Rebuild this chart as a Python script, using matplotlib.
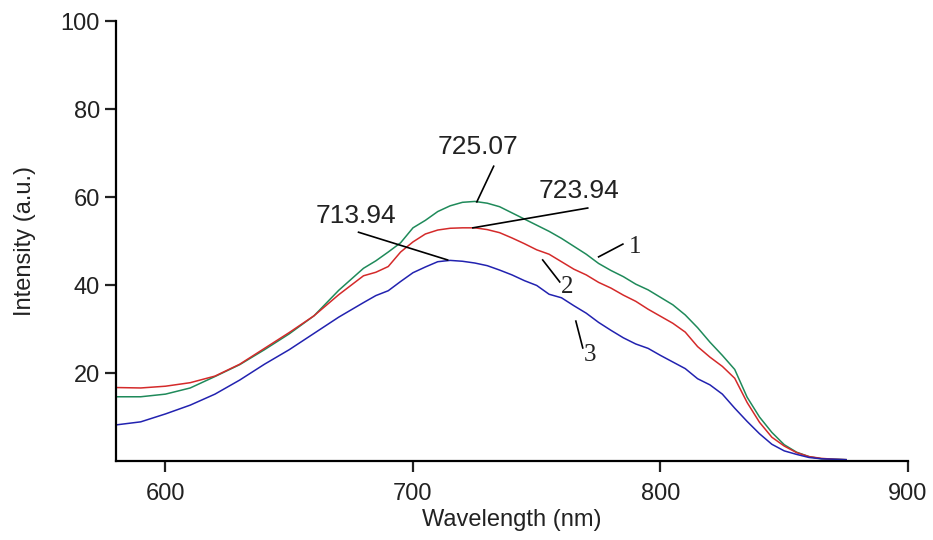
import numpy as np
import matplotlib
matplotlib.use("Agg")
import matplotlib.pyplot as plt

# wavelength grid (nm) and intensities
wl = [580, 590, 600, 610, 620, 630, 640, 650, 660, 670, 680, 685, 690, 695, 700,
      705, 710, 715, 720, 725, 730, 735, 740, 745, 750, 755, 760, 765, 770, 775,
      780, 785, 790, 795, 800, 805, 810, 815, 820, 825, 830, 835, 840, 845, 850,
      855, 860, 865, 870, 875]

# curve 1 (green)
y1 = [14.6, 14.6, 15.2, 16.6, 19.2, 21.9, 25.3, 28.9, 33.0, 38.8, 43.8, 45.5, 47.5, 49.6, 53.0,
      54.7, 56.7, 58.0, 58.8, 59.0, 58.6, 57.8, 56.4, 55.0, 53.6, 52.2, 50.6, 48.8, 47.0, 44.9,
      43.3, 41.9, 40.2, 38.9, 37.2, 35.5, 33.2, 30.3, 27.0, 24.0, 20.8, 14.5, 10.0, 6.5, 3.7,
      2.0, 1.0, 0.5, 0.4, 0.3]
# curve 2 (red)
y2 = [16.7, 16.6, 17.0, 17.8, 19.3, 22.0, 25.6, 29.2, 33.0, 37.8, 42.1, 42.9, 44.2, 47.5, 49.8,
      51.6, 52.5, 52.9, 53.0, 53.0, 52.6, 51.9, 50.7, 49.4, 48.0, 47.0, 45.3, 43.6, 42.3, 40.6,
      39.3, 37.7, 36.3, 34.5, 32.9, 31.3, 29.3, 26.0, 23.6, 21.5, 18.8, 13.3, 8.8, 5.4, 3.4,
      1.9, 1.0, 0.6, 0.4, 0.3]
# curve 3 (blue)
y3 = [8.2, 8.9, 10.7, 12.7, 15.2, 18.4, 22.0, 25.3, 29.0, 32.7, 36.0, 37.6, 38.7, 40.8, 42.8,
      44.1, 45.3, 45.6, 45.4, 45.0, 44.4, 43.4, 42.3, 41.0, 39.9, 37.9, 37.1, 35.3, 33.6, 31.5,
      29.7, 28.0, 26.6, 25.6, 24.0, 22.5, 21.0, 18.7, 17.3, 15.2, 12.0, 9.0, 6.2, 3.8, 2.3,
      1.5, 0.8, 0.5, 0.4, 0.3]

# peak labels: text, text pos, leader line (start, end)
peak_text = ["725.07", "723.94", "713.94"]
peak_text_xy = [(726.2, 71.4), (767.0, 61.4), (676.8, 55.7)]
peak_line = [((732.6, 67.0), (725.8, 58.9)),
             ((770.6, 57.5), (724.2, 53.0)),
             ((678.0, 52.0), (714.0, 45.7))]

# curve numbers
num_text = ["1", "2", "3"]
num_text_xy = [(789.6, 48.6), (762.2, 39.5), (771.5, 24.1)]
num_line = [((784.8, 49.3), (775.0, 46.4)),
            ((752.4, 45.7), (759.3, 40.7)),
            ((765.8, 31.8), (768.6, 25.7))]

plt.rcParams['font.family'] = ['Liberation Sans', 'DejaVu Sans']

fig = plt.figure(figsize=(9.33, 5.4), dpi=100)
ax = fig.add_axes([0.1243, 0.1463, 0.8489, 0.8147])

ax.plot(wl, y1, color='#1f8a5a', lw=1.1)
ax.plot(wl, y2, color='#d42a2a', lw=1.1)
ax.plot(wl, y3, color='#2222b0', lw=1.1)

for t, xy, (p, q) in zip(peak_text, peak_text_xy, peak_line):
    ax.plot([p[0], q[0]], [p[1], q[1]], color='black', lw=1.2)
    ax.text(xy[0], xy[1], t, fontsize=19, ha='center', va='center', color='#222222')

for t, xy, (p, q) in zip(num_text, num_text_xy, num_line):
    ax.plot([p[0], q[0]], [p[1], q[1]], color='black', lw=1.2)
    ax.text(xy[0], xy[1], t, fontsize=18, ha='center', va='center',
            family=['Liberation Serif', 'DejaVu Serif'], color='#222222')

ax.set_xlim(580, 900)
ax.set_ylim(0, 100)
ax.set_xticks([600, 700, 800, 900])
ax.set_yticks([20, 40, 60, 80, 100])
ax.spines['top'].set_visible(False)
ax.spines['right'].set_visible(False)
for s in ['left', 'bottom']:
    ax.spines[s].set_linewidth(1.6)
ax.tick_params(direction='out', length=8, width=1.6, labelsize=17, colors='#222222')
ax.tick_params(axis='x', pad=8)
ax.set_xlabel('Wavelength (nm)', fontsize=17, color='#222222', labelpad=3)
ax.set_ylabel('Intensity (a.u.)', fontsize=17, color='#222222', labelpad=18)

fig.savefig('out.png', dpi=100)
